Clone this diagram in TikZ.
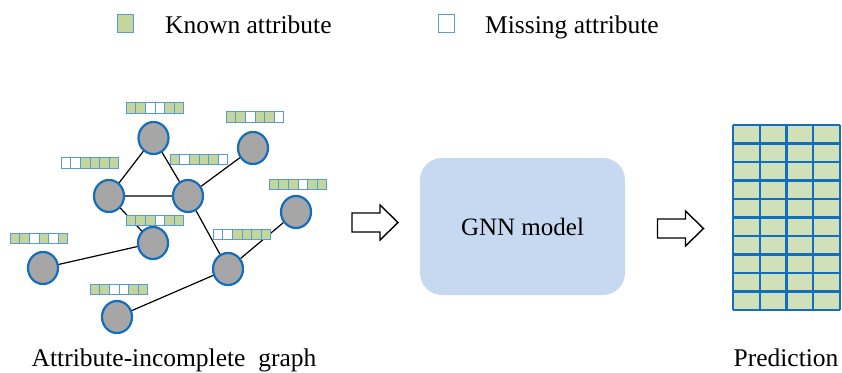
\documentclass[tikz,border=0pt]{standalone}
\usepackage{fontspec}
\setmainfont{Liberation Serif}
\usetikzlibrary{shapes.geometric}
\definecolor{known}{RGB}{195,214,155}
\definecolor{cellblue}{RGB}{91,155,213}
\definecolor{nodeblue}{RGB}{20,110,190}
\definecolor{nodegray}{RGB}{166,166,166}
\definecolor{modelblue}{RGB}{198,217,240}
\definecolor{predgreen}{RGB}{208,224,184}
\tikzset{
  vert/.style={ellipse, draw=nodeblue, line width=2.2pt, fill=nodegray, minimum width=30pt, minimum height=32pt, inner sep=0pt},
  cell/.style={rectangle, draw=cellblue, line width=0.7pt, minimum width=9.6pt, minimum height=10.5pt, inner sep=0pt},
  legbox/.style={rectangle, draw=cellblue, line width=0.9pt, minimum width=16pt, minimum height=18pt, inner sep=0pt},
  lbl/.style={font=\fontsize{25.5}{30}\selectfont, anchor=base, inner sep=0pt},
  predline/.style={draw=nodeblue, line width=2.4pt}
}
\newcommand\attrbar[2]{%
  \foreach \v [count=\i] in {#2} {
    \ifnum\v=1 \def\cc{known}\else\def\cc{white}\fi
    \node[cell, fill=\cc, xshift={(\i-3.5)*9.6}] at (#1) {};
  }}
\newcommand\fatarrow[1]{%
  \draw[line width=1.4pt, fill=white, shift={(#1)}] (-23,-9.5) -- (5,-9.5) -- (5,-17.5) -- (23,0) -- (5,17.5) -- (5,9.5) -- (-23,9.5) -- cycle;}
\begin{document}
\begin{tikzpicture}[x=1pt, y=-1pt]
\useasboundingbox (0,0) rectangle (842,372);

\node[legbox, fill=known] (legk) at (125,23.5) {};
\node[lbl, anchor=base west] (legkt) at (165,33) {Known attribute};
\node[legbox, fill=white] (legm) at (446,23.5) {};
\node[lbl, anchor=base west] (legmt) at (485,33) {Missing attribute};

\node[vert] (v1) at (153.5,138) {};
\node[vert] (v2) at (109,196) {};
\node[vert] (v3) at (188,196) {};
\node[vert] (v4) at (253,148) {};
\node[vert] (v5) at (296,212) {};
\node[vert] (v6) at (153,243) {};
\node[vert] (v7) at (43,268) {};
\node[vert] (v8) at (228,269) {};
\node[vert] (v9) at (117,317) {};
\draw[line width=1.2pt] (v1) -- (v2) (v1) -- (v3) (v2) -- (v3) (v3) -- (v4)
  (v2) -- (v6) (v6) -- (v7) (v3) -- (v8) (v8) -- (v5) (v8) -- (v9);

\attrbar{155,108}{1,1,0,0,1,1}
\attrbar{255,117}{1,1,0,1,1,0}
\attrbar{90,163}{0,0,1,1,1,1}
\attrbar{199,159.5}{1,0,1,1,1,0}
\attrbar{298,184.5}{1,1,1,0,1,1}
\attrbar{155,220.5}{1,1,1,0,1,1}
\attrbar{39,238.5}{1,1,0,1,0,1}
\attrbar{242,234.5}{0,0,1,1,1,1}
\attrbar{119,289.5}{1,1,0,0,1,1}

\node[lbl] (gtext) at (174,366) {Attribute-incomplete\ \ graph};

\fatarrow{375,222.5}
\node[rectangle, rounded corners=22pt, fill=modelblue, minimum width=205pt, minimum height=137pt] (gnn) at (522.5,226.5) {};
\node[font=\fontsize{25}{30}\selectfont] (gnnt) at (gnn) {GNN model};
\fatarrow{680.5,228.5}

\fill[predgreen] (733,125) rectangle (840,310);
\foreach \c in {0,...,4} \draw[predline] (733+\c*26.75,125) -- (733+\c*26.75,310);
\foreach \r in {0,...,10} \draw[predline] (733,125+\r*18.5) -- (840,125+\r*18.5);
\node[lbl] (ptext) at (786,366) {Prediction};
\end{tikzpicture}
\end{document}
